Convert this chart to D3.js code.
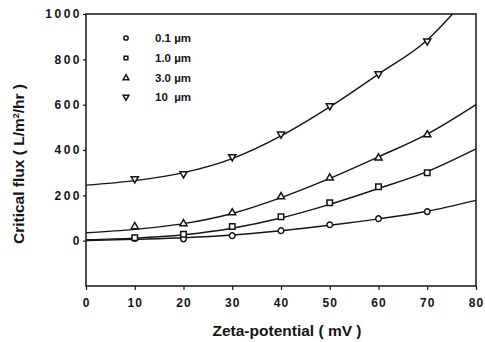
<!DOCTYPE html>
<html>
<head>
<meta charset="utf-8">
<script src="https://cdn.jsdelivr.net/npm/d3@7"></script>
<style>
  body { margin: 0; background: #fff; }
  svg { font-family: "Liberation Sans", Arial, sans-serif; }
</style>
</head>
<body>
<svg id="chart" width="485" height="342"></svg>
<script>
// measured points (zeta potential, critical flux)
const zeta = [10, 20, 30, 40, 50, 60, 70];
const flux01 = [10, 8, 22, 44, 70, 97, 128];
const flux10 = [13, 28, 62, 106, 167, 238, 300];
const flux30 = [62, 75, 123, 194, 277, 365, 467];
const flux100 = [273, 295, 370, 470, 595, 736, 881];

// fitted curves
const curveX = [0, 10, 20, 30, 40, 50, 60, 70, 80];
const fit01 = [0, 6, 13, 25, 44, 68, 96, 130, 178];
const fit10 = [4, 11, 26, 55, 100, 160, 230, 305, 405];
const fit30 = [35, 50, 75, 120, 190, 275, 370, 470, 600];
const fitX100 = [0, 10, 20, 30, 40, 50, 60, 70, 75.2];
const fit100 = [245, 265, 300, 362, 462, 590, 735, 885, 1000];

const legendLabels = ['0.1 \u00b5m', '1.0 \u00b5m', '3.0 \u00b5m', '10  \u00b5m'];
const xTicks = [0, 10, 20, 30, 40, 50, 60, 70, 80];
const yTicks = [0, 200, 400, 600, 800, 1000];

const svg = d3.select('#chart');
const ink = '#151515';

const x = d3.scaleLinear().domain([0, 80]).range([86, 476]);
const y = d3.scaleLinear().domain([-200, 1000]).range([286, 14]);

// frame
svg.append('rect')
  .attr('x', x(0)).attr('y', y(1000))
  .attr('width', x(80) - x(0)).attr('height', y(-200) - y(1000))
  .attr('fill', 'none').attr('stroke', ink).attr('stroke-width', 1.5);

const xAxis = svg.append('g')
  .attr('transform', `translate(0,${y(-200)})`)
  .call(d3.axisBottom(x).tickValues(xTicks).tickFormat(d3.format('d')).tickSize(4).tickPadding(8));
const yAxis = svg.append('g')
  .attr('transform', `translate(${x(0)},0)`)
  .call(d3.axisLeft(y).tickValues(yTicks).tickFormat(d3.format('d')).tickSize(3).tickPadding(1));

[xAxis, yAxis].forEach(g => {
  g.select('.domain').remove();
  g.selectAll('line').attr('stroke', ink).attr('stroke-width', 1.2);
  g.selectAll('text')
    .attr('fill', ink)
    .style('font-size', '12px')
    .style('font-weight', 'bold');
});
xAxis.selectAll('text').style('letter-spacing', '1px');
yAxis.selectAll('text').style('letter-spacing', '2.5px');

// axis titles
svg.append('text')
  .attr('x', 287).attr('y', 336)
  .attr('text-anchor', 'middle')
  .attr('fill', ink)
  .style('font-size', '15.5px').style('font-weight', 'bold')
  .text('Zeta-potential ( mV )');

const yTitle = svg.append('text')
  .attr('transform', 'translate(24,164) rotate(-90)')
  .attr('text-anchor', 'middle')
  .attr('fill', ink)
  .style('font-size', '15.5px').style('font-weight', 'bold');
yTitle.append('tspan').text('Critical flux ( L/m');
yTitle.append('tspan').attr('baseline-shift', 'super').style('font-size', '9px').text('2');
yTitle.append('tspan').text('/hr )');

// fitted lines
const line = d3.line().curve(d3.curveMonotoneX);
const fits = [
  [curveX, fit01], [curveX, fit10], [curveX, fit30], [fitX100, fit100]
];
fits.forEach(([xs, ys]) => {
  svg.append('path')
    .attr('d', line(xs.map((v, i) => [x(v), y(ys[i])])))
    .attr('fill', 'none').attr('stroke', ink).attr('stroke-width', 1.4);
});

// markers
const symbolTypes = [d3.symbolCircle, d3.symbolSquare, d3.symbolTriangle, d3.symbolTriangle];
const symbolSizes = [25, 30, 22, 22];
const rotations = [0, 0, 0, 180];
const series = [flux01, flux10, flux30, flux100];

series.forEach((vals, s) => {
  svg.append('g').selectAll('path')
    .data(vals)
    .join('path')
    .attr('transform', (d, i) => `translate(${x(zeta[i])},${y(d)}) rotate(${rotations[s]})`)
    .attr('d', d3.symbol().type(symbolTypes[s]).size(symbolSizes[s])())
    .attr('fill', '#fff').attr('stroke', ink).attr('stroke-width', 1.5);
});

// legend
const legendY = [38, 58, 78, 97];
legendLabels.forEach((lab, s) => {
  svg.append('path')
    .attr('transform', `translate(126,${legendY[s]}) rotate(${rotations[s]})`)
    .attr('d', d3.symbol().type(symbolTypes[s]).size(14)())
    .attr('fill', '#fff').attr('stroke', ink).attr('stroke-width', 1.5);
  svg.append('text')
    .attr('x', 155).attr('y', legendY[s] + 4)
    .attr('fill', ink)
    .style('white-space', 'pre')
    .style('font-size', '11.5px').style('font-weight', 'bold')
    .text(lab);
});
</script>
</body>
</html>
